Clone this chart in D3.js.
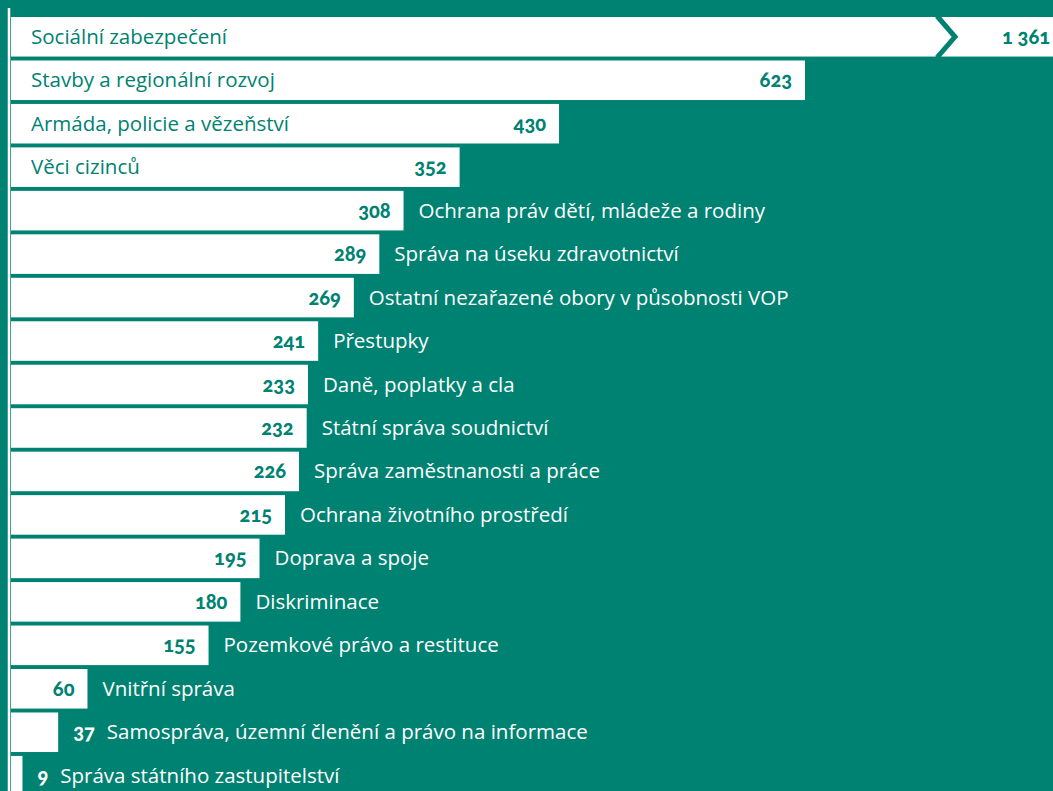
<!DOCTYPE html>
<html>
<head>
<meta charset="utf-8">
<script src="https://cdn.jsdelivr.net/npm/d3@7"></script>
<style>
  html, body { margin: 0; padding: 0; background: #008272; }
  svg { display: block; }
  .name { font-family: "Open Sans", Lato, sans-serif; font-size: 20.5px; font-weight: 400; }
  .val { font-family: Lato, "Open Sans", sans-serif; font-size: 20px; font-weight: 900; font-variant-numeric: oldstyle-nums; }
</style>
</head>
<body>
<svg id="chart"></svg>
<script>
'use strict';

var categories = [
  'Sociální zabezpečení',
  'Stavby a regionální rozvoj',
  'Armáda, policie a vězeňství',
  'Věci cizinců',
  'Ochrana práv dětí, mládeže a rodiny',
  'Správa na úseku zdravotnictví',
  'Ostatní nezařazené obory v působnosti VOP',
  'Přestupky',
  'Daně, poplatky a cla',
  'Státní správa soudnictví',
  'Správa zaměstnanosti a práce',
  'Ochrana životního prostředí',
  'Doprava a spoje',
  'Diskriminace',
  'Pozemkové právo a restituce',
  'Vnitřní správa',
  'Samospráva, územní členění a právo na informace',
  'Správa státního zastupitelství'
];
var values = [1361, 623, 430, 352, 308, 289, 269, 241, 233, 232, 226, 215, 195, 180, 155, 60, 37, 9];
var valueLabels = ['1 361', '623', '430', '352', '308', '289', '269', '241', '233', '232', '226', '215', '195', '180', '155', '60', '37', '9'];

var width = 1053,
    height = 791,
    teal = '#008272',
    margin = { top: 17, left: 11 },
    pad = 13,
    breakX = 945,
    nameInsideFrom = 350; // names sit inside the bar only for the long bars

var svg = d3.select('#chart').attr('width', width).attr('height', height);

var x = d3.scaleLinear().domain([0, 623]).range([margin.left, 805]);
var y = d3.scaleBand()
  .domain(d3.range(categories.length))
  .range([margin.top, margin.top + 43.25 * categories.length])
  .paddingInner(0.09)
  .paddingOuter(0);

// left axis line
svg.append('line')
  .attr('x1', 9).attr('x2', 9)
  .attr('y1', 8).attr('y2', height)
  .attr('stroke', '#fff').attr('stroke-width', 2.5);

var rows = svg.append('g').selectAll('g')
  .data(values.map(function (v, i) { return { v: v, i: i }; }))
  .enter().append('g');

rows.append('rect')
  .attr('x', x(0))
  .attr('y', function (d) { return y(d.i); })
  .attr('height', y.bandwidth())
  .attr('width', function (d) { return Math.min(x(d.v), width) - x(0); })
  .attr('fill', '#fff');

function textWidth(str, cls) {
  var t = svg.append('text').attr('class', cls).text(str);
  var w = t.node().getComputedTextLength();
  t.remove();
  return w;
}

rows.each(function (d) {
  var g = d3.select(this),
      cy = y(d.i) + y.bandwidth() / 2 + 7,
      end = x(d.v),
      broken = end > width,
      valW = textWidth(valueLabels[d.i], 'val');

  // bar that runs off the chart gets a break mark
  if (broken) {
    end = width;
    var y0 = y(d.i), y1 = y0 + y.bandwidth();
    g.append('path')
      .attr('d', d3.line()([[breakX - 8, y0 - 1], [breakX + 10, (y0 + y1) / 2], [breakX - 8, y1 + 1]]))
      .attr('fill', 'none')
      .attr('stroke', teal)
      .attr('stroke-width', 5);
  }

  var barW = end - x(0),
      nameInside = d.v >= nameInsideFrom,
      valInside = valW + pad * 2 + 12 < barW,
      valEnd;

  if (valInside) {
    valEnd = end - (broken ? 3 : pad);
    g.append('text').attr('class', 'val')
      .attr('x', valEnd).attr('y', cy)
      .attr('text-anchor', 'end').attr('fill', teal)
      .text(valueLabels[d.i]);
  } else {
    valEnd = end + 15 + valW;
    g.append('text').attr('class', 'val')
      .attr('x', end + 15).attr('y', cy)
      .attr('fill', '#fff')
      .text(valueLabels[d.i]);
  }

  g.append('text').attr('class', 'name')
    .attr('x', nameInside ? x(0) + 20 : (valInside ? end + 15 : valEnd + 12))
    .attr('y', cy)
    .attr('fill', nameInside ? teal : '#fff')
    .text(categories[d.i]);
});
</script>
</body>
</html>
